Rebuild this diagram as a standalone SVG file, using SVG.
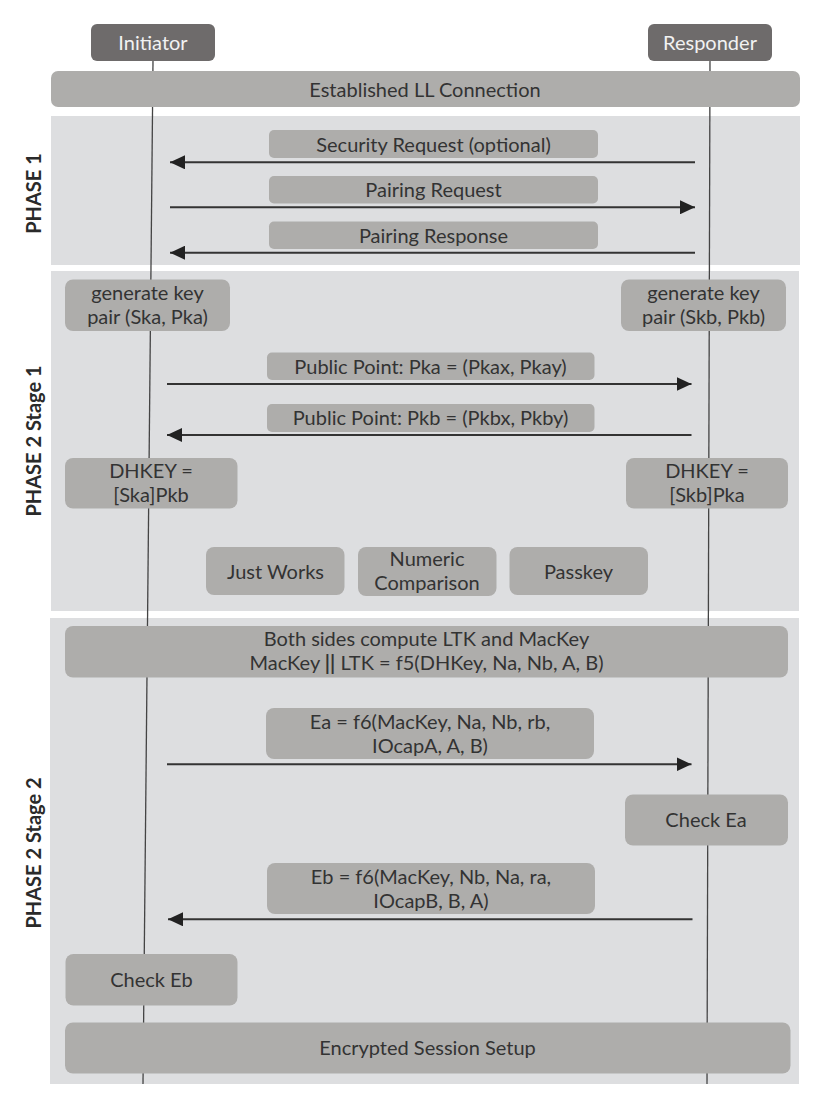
<svg xmlns="http://www.w3.org/2000/svg" width="824" height="1098" viewBox="0 0 824 1098">
<style>
.panel{fill:#dddee0}
.box{fill:#aeadab}
.hdr{fill:#6e6b6b}
.t{font-family:Lato,"Open Sans","Liberation Sans",sans-serif;font-size:20px;fill:#333;text-anchor:middle}
.ht{font-family:Lato,"Open Sans","Liberation Sans",sans-serif;font-size:20px;fill:#f2f2f2;text-anchor:middle}
.ph{font-family:Lato,"Open Sans","Liberation Sans",sans-serif;font-size:20px;font-weight:bold;fill:#2a2a2a;text-anchor:middle}
.life{stroke:#444;stroke-width:1.3;fill:none}
.msg{stroke:#333;stroke-width:2;fill:none;marker-end:url(#ah)}
</style>
<defs>
<marker id="ah" markerUnits="userSpaceOnUse" markerWidth="16" markerHeight="14" refX="15" refY="7" orient="auto">
<path d="M0,0 L15,7 L0,14 Z" fill="#222"/>
</marker>
</defs>
<rect width="824" height="1098" fill="#ffffff"/>

<g id="panels">
<rect class="panel" x="51" y="116" width="749" height="149"/>
<rect class="panel" x="51" y="271" width="748" height="340"/>
<rect class="panel" x="50" y="618" width="749" height="466"/>
<text class="ph" transform="translate(41,193.5) rotate(-90)">PHASE 1</text>
<text class="ph" transform="translate(41,441) rotate(-90)">PHASE 2 Stage 1</text>
<text class="ph" transform="translate(41,853) rotate(-90)">PHASE 2 Stage 2</text>
</g>

<g id="lifelines">
<line class="life" x1="153" y1="61" x2="143" y2="1084"/>
<line class="life" x1="710" y1="61" x2="707" y2="1084"/>
</g>

<g id="initiator">
<rect class="hdr" x="91" y="24" width="124" height="37" rx="6"/>
<text class="ht" x="153" y="49.5">Initiator</text>
</g>
<g id="responder">
<rect class="hdr" x="648" y="24" width="124" height="37" rx="6"/>
<text class="ht" x="710" y="49.5">Responder</text>
</g>

<g id="established">
<rect class="box" x="51" y="71" width="749" height="36" rx="7"/>
<text class="t" x="425" y="96.5">Established LL Connection</text>
</g>

<g id="security-request">
<rect class="box" x="269" y="130" width="329" height="28" rx="5"/>
<text class="t" x="433.5" y="151.5">Security Request (optional)</text>
</g>
<g id="pairing-request">
<rect class="box" x="269" y="176" width="329" height="27.5" rx="5"/>
<text class="t" x="433.5" y="197">Pairing Request</text>
</g>
<g id="pairing-response">
<rect class="box" x="269" y="221.5" width="329" height="27.5" rx="5"/>
<text class="t" x="433.5" y="242.5">Pairing Response</text>
</g>

<g id="genkey-a">
<rect class="box" x="65" y="279.5" width="165" height="51.5" rx="8"/>
<text class="t" x="147.5" y="300">generate key</text>
<text class="t" x="147.5" y="324">pair (Ska, Pka)</text>
</g>
<g id="genkey-b">
<rect class="box" x="621" y="279.5" width="165" height="51.5" rx="8"/>
<text class="t" x="703.5" y="300">generate key</text>
<text class="t" x="703.5" y="324">pair (Skb, Pkb)</text>
</g>
<g id="pka">
<rect class="box" x="267" y="352.5" width="327.5" height="27.5" rx="5"/>
<text class="t" x="430.5" y="373.5">Public Point: Pka = (Pkax, Pkay)</text>
</g>
<g id="pkb">
<rect class="box" x="267" y="404" width="327.5" height="28" rx="5"/>
<text class="t" x="430.5" y="425">Public Point: Pkb = (Pkbx, Pkby)</text>
</g>
<g id="dhkey-a">
<rect class="box" x="65" y="458" width="172.5" height="50.5" rx="8"/>
<text class="t" x="151" y="477.5">DHKEY =</text>
<text class="t" x="151" y="501.5">[Ska]Pkb</text>
</g>
<g id="dhkey-b">
<rect class="box" x="626" y="458" width="162" height="50.5" rx="8"/>
<text class="t" x="707" y="477.5">DHKEY =</text>
<text class="t" x="707" y="501.5">[Skb]Pka</text>
</g>
<g id="just-works">
<rect class="box" x="206" y="547" width="138.5" height="48" rx="8"/>
<text class="t" x="275.5" y="578.5">Just Works</text>
</g>
<g id="numeric-comparison">
<rect class="box" x="358" y="547" width="138.5" height="49" rx="8"/>
<text class="t" x="427" y="566">Numeric</text>
<text class="t" x="427" y="590">Comparison</text>
</g>
<g id="passkey">
<rect class="box" x="509.5" y="547" width="138.5" height="48" rx="8"/>
<text class="t" x="578.5" y="578.5">Passkey</text>
</g>

<g id="ltk">
<rect class="box" x="65" y="626" width="723" height="51.5" rx="8"/>
<text class="t" x="426.5" y="646">Both sides compute LTK and MacKey</text>
<text class="t" x="426.5" y="670">MacKey <tspan font-weight="bold">||</tspan> LTK = f5(DHKey, Na, Nb, A, B)</text>
</g>
<g id="ea">
<rect class="box" x="266" y="708" width="328" height="51" rx="8"/>
<text class="t" x="430" y="728.5">Ea = f6(MacKey, Na, Nb, rb,</text>
<text class="t" x="430" y="752.5">IOcapA, A, B)</text>
</g>
<g id="check-ea">
<rect class="box" x="625" y="794.5" width="163" height="51" rx="8"/>
<text class="t" x="706" y="827">Check Ea</text>
</g>
<g id="eb">
<rect class="box" x="267" y="863" width="328" height="51" rx="8"/>
<text class="t" x="431" y="883.5">Eb = f6(MacKey, Nb, Na, ra,</text>
<text class="t" x="431" y="907.5">IOcapB, B, A)</text>
</g>
<g id="check-eb">
<rect class="box" x="65.5" y="954" width="172" height="51.5" rx="8"/>
<text class="t" x="151.5" y="986.5">Check Eb</text>
</g>
<g id="encrypted">
<rect class="box" x="65" y="1022.5" width="725.5" height="51" rx="8"/>
<text class="t" x="427.5" y="1055">Encrypted Session Setup</text>
</g>

<g id="connectors">
<line class="msg" x1="695" y1="162.3" x2="170" y2="162.3"/>
<line class="msg" x1="170" y1="207.3" x2="695" y2="207.3"/>
<line class="msg" x1="695" y1="252.7" x2="170" y2="252.7"/>
<line class="msg" x1="167" y1="384" x2="691.5" y2="384"/>
<line class="msg" x1="691.5" y1="435" x2="167" y2="435"/>
<line class="msg" x1="167" y1="764.3" x2="691.5" y2="764.3"/>
<line class="msg" x1="692.5" y1="919.3" x2="168" y2="919.3"/>
</g>
</svg>
